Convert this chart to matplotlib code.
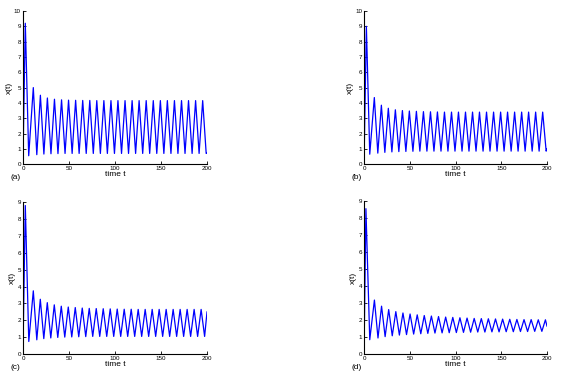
import numpy as np
import matplotlib
matplotlib.use('Agg')
import matplotlib.pyplot as plt

plt.rcParams['font.family'] = ['Liberation Sans', 'DejaVu Sans']

# Extrema of the curves (time, value)
start_x = 0.3

a_t_peak = [2.5, 11.2, 18.9, 26.5, 34.2, 41.9, 49.5, 57.2, 64.9, 72.6, 80.2, 87.9, 95.6,
            103.2, 110.9, 118.6, 126.2, 133.9, 141.6, 149.3, 156.9, 164.6, 172.3, 179.9, 187.6, 195.3]
a_t_low = [6.2, 15.0, 22.7, 30.4, 38.0, 45.7, 53.4, 61.0, 68.7, 76.4, 84.1, 91.7, 99.4,
           107.1, 114.7, 122.4, 130.1, 137.7, 145.4, 153.1, 160.8, 168.4, 176.1, 183.8, 191.4, 199.1]
a_x_peak = [9.2, 5.0, 4.5, 4.32, 4.24, 4.2, 4.18, 4.17, 4.16, 4.16] + [4.15] * 16
a_x_low = [0.55, 0.62, 0.66, 0.68, 0.69] + [0.7] * 21
a_x_end = 0.72

b_t_peak = a_t_peak
b_t_low = a_t_low
b_x_peak = [9.0, 4.35, 3.85, 3.65, 3.55, 3.5, 3.47, 3.45, 3.43, 3.42, 3.41] + [3.4] * 15
b_x_low = [0.65, 0.72, 0.77, 0.8, 0.82, 0.83, 0.84] + [0.85] * 19
b_x_end = 1.0

c_t_peak = [2.5, 11.2, 18.8, 26.4, 34.0, 41.6, 49.2, 56.8, 64.4, 72.0, 79.6, 87.2, 94.8,
            102.4, 110.0, 117.6, 125.2, 132.8, 140.4, 148.0, 155.6, 163.2, 170.8, 178.4, 186.0, 193.6]
c_t_low = [6.3, 15.0, 22.6, 30.2, 37.8, 45.4, 53.0, 60.6, 68.2, 75.8, 83.4, 91.0, 98.6,
           106.2, 113.8, 121.4, 129.0, 136.6, 144.2, 151.8, 159.4, 167.0, 174.6, 182.2, 189.8, 197.4]
c_x_peak = [8.8, 3.75, 3.25, 3.05, 2.92, 2.84, 2.79, 2.76, 2.73, 2.71, 2.7, 2.69, 2.68,
            2.67, 2.66, 2.66] + [2.65] * 10
c_x_low = [0.75, 0.85, 0.92, 0.96, 0.99, 1.01, 1.02, 1.03, 1.04] + [1.05] * 17
c_x_end = 2.5

d_t_peak = [2.0, 11.3, 19.1, 26.9, 34.7, 42.5, 50.3, 58.1, 65.8, 73.6, 81.4, 89.2, 97.0,
            104.8, 112.6, 120.4, 128.2, 135.9, 143.7, 151.5, 159.3, 167.1, 174.9, 182.7, 190.5, 198.3]
d_t_low = [6.2, 15.2, 23.0, 30.8, 38.6, 46.4, 54.2, 62.0, 69.7, 77.5, 85.3, 93.1, 100.9,
           108.7, 116.5, 124.3, 132.1, 139.8, 147.6, 155.4, 163.2, 171.0, 178.8, 186.6, 194.4]
d_x_peak = [8.55, 3.18, 2.82, 2.62, 2.5, 2.42, 2.36, 2.31, 2.27, 2.24, 2.21, 2.18, 2.16,
            2.14, 2.12, 2.1, 2.09, 2.08, 2.07, 2.06, 2.05, 2.04, 2.03, 2.03, 2.02, 2.02]
d_x_low = [0.85, 0.95, 1.03, 1.08, 1.12, 1.15, 1.18, 1.2, 1.22, 1.24, 1.25, 1.26, 1.27,
           1.28, 1.29, 1.3, 1.3, 1.31, 1.31, 1.32, 1.32, 1.33, 1.33, 1.34, 1.34]
d_x_end = 1.65

t_end = 200
x_ticks = [0, 50, 100, 150, 200]


def noi_cuc_tri(t_peak, x_peak, t_low, x_low, x_end):
    # Interleave peaks and troughs into one curve
    t = [0.0]
    x = [start_x]
    for i in range(len(t_peak)):
        t.append(t_peak[i])
        x.append(x_peak[i])
        if i < len(t_low):
            t.append(t_low[i])
            x.append(x_low[i])
    t.append(t_end)
    x.append(x_end)
    return np.array(t), np.array(x)


def ve_o(ax, t, x, ymax, nhan):
    ax.plot(t, x, color='#0000ff', linewidth=0.9)
    ax.set_xlim(0, 200)
    ax.set_ylim(0, ymax)
    ax.set_xticks(x_ticks)
    ax.set_yticks(range(0, ymax + 1))
    ax.tick_params(direction='in', length=2, width=0.6, labelsize=4.5, pad=1.5)
    ax.spines['top'].set_visible(False)
    ax.spines['right'].set_visible(False)
    ax.spines['left'].set_linewidth(0.8)
    ax.spines['bottom'].set_linewidth(0.8)
    ax.set_xlabel('time t', fontsize=6, labelpad=0)
    ax.set_ylabel('x(t)', fontsize=6, labelpad=1)
    ax.text(-0.07, -0.085, nhan, transform=ax.transAxes, fontsize=6, ha='left', va='center')


fig = plt.figure(figsize=(5.61, 3.80), dpi=100)

ax_a = fig.add_axes([0.041, 0.568, 0.328, 0.403])
ax_b = fig.add_axes([0.649, 0.568, 0.326, 0.403])
ax_c = fig.add_axes([0.041, 0.068, 0.328, 0.400])
ax_d = fig.add_axes([0.649, 0.068, 0.326, 0.403])

ve_o(ax_a, *noi_cuc_tri(a_t_peak, a_x_peak, a_t_low, a_x_low, a_x_end), 10, '(a)')
ve_o(ax_b, *noi_cuc_tri(b_t_peak, b_x_peak, b_t_low, b_x_low, b_x_end), 10, '(b)')
ve_o(ax_c, *noi_cuc_tri(c_t_peak, c_x_peak, c_t_low, c_x_low, c_x_end), 9, '(c)')
ve_o(ax_d, *noi_cuc_tri(d_t_peak, d_x_peak, d_t_low, d_x_low, d_x_end), 9, '(d)')

fig.savefig('out.png', dpi=100)
